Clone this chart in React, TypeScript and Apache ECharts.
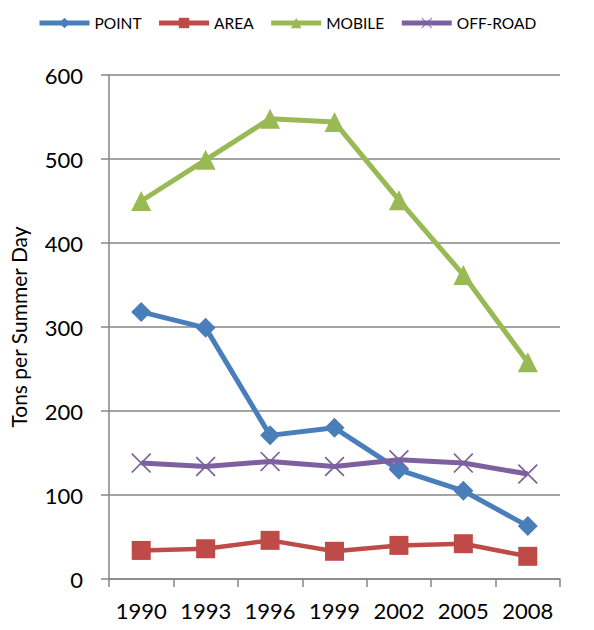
import React, { useEffect, useRef } from "react";
import * as echarts from "echarts";

const years = ["1990", "1993", "1996", "1999", "2002", "2005", "2008"];
const pointVals = [318, 299, 171, 180, 130, 105, 63];
const areaVals = [34, 36, 46, 33, 40, 42, 27];
const mobileVals = [450, 499, 548, 544, 451, 362, 258];
const offroadVals = [138, 134, 140, 134, 142, 138, 125];

const FONT = "Lato";
const X_SYMBOL =
  "path://M0,0.6 L0.6,0 L5,4.4 L9.4,0 L10,0.6 L5.6,5 L10,9.4 L9.4,10 L5,5.6 L0.6,10 L0,9.4 L4.4,5 Z";

export default function App() {
  const ref = useRef<HTMLDivElement>(null);
  useEffect(() => {
    if (!ref.current) return;
    const chart = echarts.init(ref.current, undefined, { renderer: "svg" });
    const mk = (name: string, data: number[], color: string, symbol: string, size: number, width: number) => ({
      name,
      type: "line",
      data,
      symbol,
      symbolSize: size,
      showAllSymbol: true,
      lineStyle: { color, width },
      itemStyle: { color, borderWidth: 0 },
      emphasis: { disabled: true },
    });
    chart.setOption({
      animation: false,
      textStyle: { fontFamily: FONT },
      legend: {
        top: 10,
        left: 32,
        itemWidth: 50,
        itemHeight: 13,
        itemGap: 15,
        lineStyle: { width: 5 },
        textStyle: { fontFamily: FONT, fontSize: 15.5, color: "#000" },
        data: ["POINT", "AREA", "MOBILE", "OFF-ROAD"],
      },
      grid: { left: 104, right: 34, top: 75, bottom: 51 },
      xAxis: {
        type: "category",
        data: years,
        boundaryGap: true,
        axisLine: { lineStyle: { color: "#868686", width: 1.5 } },
        axisTick: { show: true, length: 8, interval: 0, lineStyle: { color: "#868686", width: 1.5 } },
        axisLabel: { color: "#000", fontSize: 22, fontFamily: FONT, margin: 20, interval: 0 },
      },
      yAxis: {
        type: "value",
        min: 0,
        max: 600,
        interval: 100,
        name: "Tons per Summer Day",
        nameLocation: "middle",
        nameRotate: 90,
        nameGap: 80,
        nameTextStyle: { color: "#000", fontSize: 21, fontFamily: FONT },
        axisLine: { show: true, lineStyle: { color: "#868686", width: 1.5 } },
        axisTick: { show: true, length: 8, lineStyle: { color: "#868686", width: 1.5 } },
        axisLabel: { color: "#000", fontSize: 22, fontFamily: FONT, margin: 26 },
        splitLine: { show: true, lineStyle: { color: "#868686", width: 1.5 } },
      },
      series: [
        mk("POINT", pointVals, "#4A7EBB", "diamond", 20, 5),
        mk("AREA", areaVals, "#BE4B48", "rect", 19, 4.5),
        mk("MOBILE", mobileVals, "#98B954", "triangle", 20, 5),
        mk("OFF-ROAD", offroadVals, "#7D60A0", X_SYMBOL, 20, 5),
      ],
    });
    return () => chart.dispose();
  }, []);
  return <div ref={ref} style={{ width: 594, height: 630, marginLeft: -8, marginTop: -8 }} />;
}
